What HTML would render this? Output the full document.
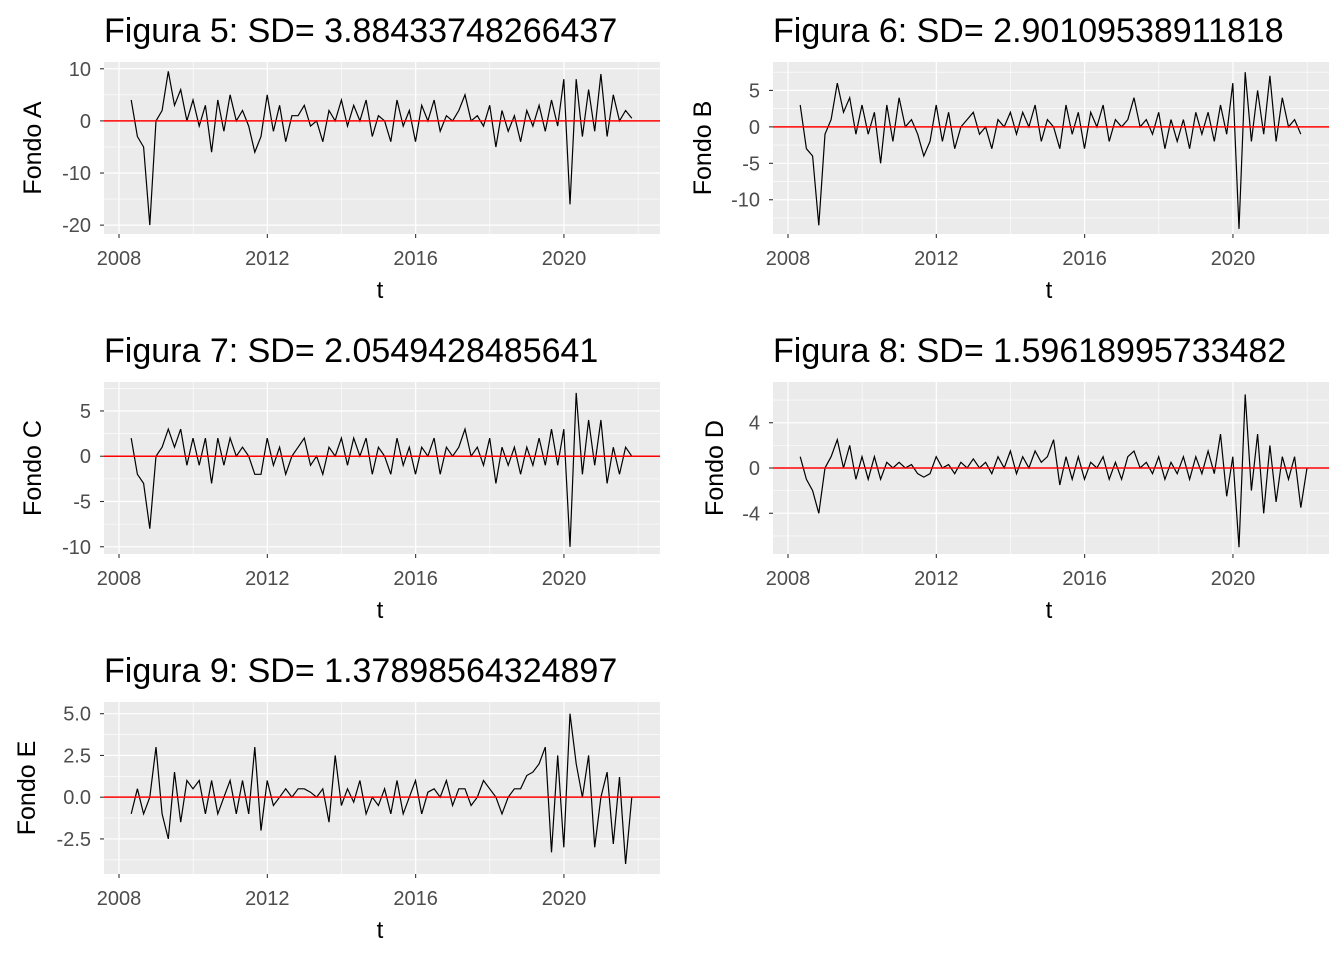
<!DOCTYPE html>
<html><head><meta charset="utf-8"><style>body{margin:0;background:#fff}svg{display:block;font-family:"Liberation Sans",sans-serif}</style></head>
<body>
<svg id="c" width="1344" height="960"></svg>
<script>
const seriesA=[4,-3,-5,-20,0,2,9.5,3,6,0,4,-1,3,-6,4,-2,5,0,2,-1,-6,-3,5,-2,3,-4,1,1,3,-1,0,-4,2,0,4,-1,3,0,4,-3,1,0,-4,4,-1,2,-4,3,0,4,-2,1,0,2,5,0,1,-1,3,-5,2,-2,1,-4,2,-1,3,-2,4,-1,8,-16,8,-3,6,-2,9,-3,5,0,2,0.5];
const seriesB=[3,-3,-4,-13.5,-1,1,6,2,4,-1,3,-1,2,-5,3,-2,4,0,1,-1,-4,-2,3,-2,2,-3,0,1,2,-1,0,-3,1,0,2,-1,2,0,3,-2,1,0,-3,3,-1,2,-3,2,0,3,-2,1,0,1,4,0,1,-1,2,-3,1,-2,1,-3,2,-1,2,-2,3,-1,6,-14,7.5,-2,5,-1,7,-2,4,0,1,-1];
const seriesC=[2,-2,-3,-8,0,1,3,1,3,-1,2,-1,2,-3,2,-1,2,0,1,0,-2,-2,2,-1,1,-2,0,1,2,-1,0,-2,1,0,2,-1,2,0,2,-2,1,0,-2,2,-1,1,-2,1,0,2,-2,1,0,1,3,0,1,-1,2,-3,1,-1,1,-2,1,-1,2,-1,3,-1,3,-10,7,-2,4,-1,4,-3,1,-2,1,0];
const seriesD=[1,-1,-2,-4,0,1,2.5,0,2,-1,1,-1,1,-1,0.5,0,0.5,0,0.3,-0.5,-0.8,-0.5,1,0,0.3,-0.5,0.5,0,0.8,0,0.5,-0.5,1,0,1.5,-0.5,1,0,1.5,0.5,1,2.5,-1.5,1,-1,1,-1,0.5,0,1,-1,0.5,-1,1,1.5,0,0.5,-0.5,1,-1,0.5,-0.5,1,-1,1,-0.5,1.5,-0.5,3,-2.5,1,-7,6.5,-2,3,-4,2,-3,1,-1,1,-3.5,0];
const seriesE=[-1,0.5,-1,0,3,-1,-2.5,1.5,-1.5,1,0.5,1,-1,1,-1,0,1,-1,1,-1,3,-2,1,-0.5,0,0.5,0,0.5,0.5,0.3,0,0.5,-1.5,2.5,-0.5,0.5,-0.3,1,-1,0,-0.5,0.5,-1,1,-1,0,1,-1,0.3,0.5,0,1,-0.5,0.5,0.5,-0.5,0,1,0.5,0,-1,0,0.5,0.5,1.3,1.5,2,3,-3.3,2.5,-3,5,2,0,2.5,-3,0,1.5,-2.8,1.2,-4,0];
const titles=["Figura 5: SD= 3.88433748266437","Figura 6: SD= 2.90109538911818","Figura 7: SD= 2.0549428485641","Figura 8: SD= 1.59618995733482","Figura 9: SD= 1.37898564324897"];
const yLabels=["Fondo A","Fondo B","Fondo C","Fondo D","Fondo E"];
const yTicksA=[10,0,-10,-20],yTicksB=[5,0,-5,-10],yTicksC=[5,0,-5,-10],yTicksD=[4,0,-4],yTicksE=[5.0,2.5,0.0,-2.5];
const xTicks=[2008,2012,2016,2020];
const startYear=2008.33, stepYear=1/12*2;
const panels=[
 {s:seriesA,t:yTicksA,ymin:-21.7,ymax:11.3,x0:104,y0:62,dec:0,yo:71},
 {s:seriesB,t:yTicksB,ymin:-14.7,ymax:8.9,x0:773,y0:62,dec:0,yo:70},
 {s:seriesC,t:yTicksC,ymin:-10.8,ymax:8.2,x0:104,y0:382,dec:0,yo:71},
 {s:seriesD,t:yTicksD,ymin:-7.6,ymax:7.6,x0:773,y0:382,dec:0,yo:58},
 {s:seriesE,t:yTicksE,ymin:-4.6,ymax:5.7,x0:104,y0:702,dec:1,yo:77}];
const NS="http://www.w3.org/2000/svg",svg=document.getElementById("c");
function mk(tag,attrs,parent,text){const e=document.createElementNS(NS,tag);for(const k in attrs)e.setAttribute(k,attrs[k]);if(text!==undefined)e.textContent=text;(parent||svg).appendChild(e);return e;}
const W=556,H=172;
panels.forEach((p,i)=>{
 const g=mk("g",{});
 
 
 const xs=v=>p.x0+15+(v-2008)*37.08;
 const ys=v=>p.y0+(p.ymax-v)/(p.ymax-p.ymin)*H;
 const bg=mk("rect",{x:p.x0,y:p.y0,width:W,height:H,fill:"#ebebeb"},g);
 
 
 const step=p.t[0]-p.t[1];
 for(let k=0;k<p.t.length;k++){const m=p.t[k]-step/2;if(m>p.ymin)mk("line",{x1:p.x0,x2:p.x0+W,y1:ys(m),y2:ys(m),stroke:"#fff","stroke-width":0.6},g);}
 if(p.t[0]+step/2<p.ymax)mk("line",{x1:p.x0,x2:p.x0+W,y1:ys(p.t[0]+step/2),y2:ys(p.t[0]+step/2),stroke:"#fff","stroke-width":0.6},g);
 [2010,2014,2018,2022].forEach(v=>{if(xs(v)<p.x0+W)mk("line",{x1:xs(v),x2:xs(v),y1:p.y0,y2:p.y0+H,stroke:"#fff","stroke-width":0.6},g);});
 p.t.forEach(v=>{
  mk("line",{x1:p.x0,x2:p.x0+W,y1:ys(v),y2:ys(v),stroke:"#fff","stroke-width":1.2},g);
  mk("line",{x1:p.x0-4,x2:p.x0,y1:ys(v),y2:ys(v),stroke:"#333","stroke-width":1.1},g);
  const tl=mk("text",{x:p.x0-13,y:ys(v)+7,"text-anchor":"end","font-size":20,fill:"#4d4d4d"},g,p.dec?v.toFixed(1):String(v));
  
  
 });
 xTicks.forEach(v=>{
  mk("line",{x1:xs(v),x2:xs(v),y1:p.y0,y2:p.y0+H,stroke:"#fff","stroke-width":1.2},g);
  mk("line",{x1:xs(v),x2:xs(v),y1:p.y0+H,y2:p.y0+H+4,stroke:"#333","stroke-width":1.1},g);
  const tl=mk("text",{x:xs(v),y:p.y0+H+31,"text-anchor":"middle","font-size":20,fill:"#4d4d4d"},g,String(v));
  
  
 });
 const pts=p.s.map((v,k)=>xs(startYear+k*stepYear).toFixed(1)+","+ys(v).toFixed(1)).join(" ");
 const ln=mk("polyline",{points:pts,fill:"none",stroke:"#000","stroke-width":1.2},g);
 
 
 const zl=mk("line",{x1:p.x0,x2:p.x0+W,y1:ys(0),y2:ys(0),stroke:"#ff0000","stroke-width":1.5},g);
 
 
 const tt=mk("text",{x:p.x0,y:p.y0-20,"font-size":34,fill:"#000"},g,titles[i]);
 
 
 const xl=mk("text",{x:p.x0+W/2-2,y:p.y0+H+64,"text-anchor":"middle","font-size":24,fill:"#000"},g,"t");
 
 
 const yx=p.x0-p.yo+8,yy=p.y0+H/2;
 const yl=mk("text",{x:yx,y:yy,"text-anchor":"middle","font-size":25,fill:"#000",transform:"rotate(-90 "+yx+" "+yy+")"},g,yLabels[i]);
 
 
});
</script>
</body></html>
